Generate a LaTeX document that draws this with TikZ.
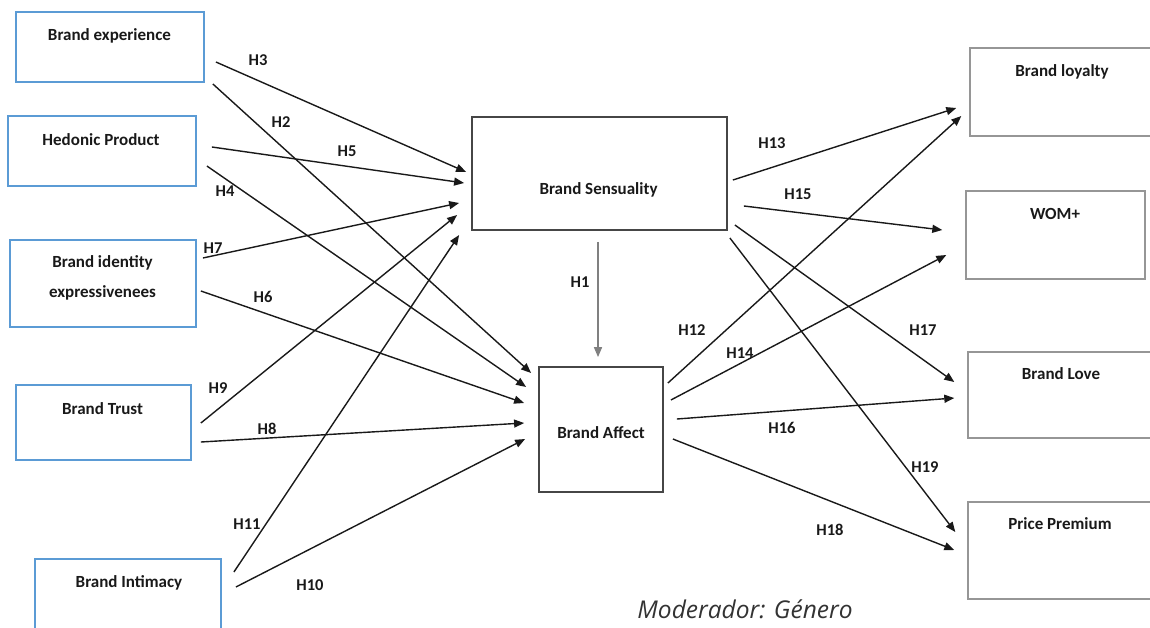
\documentclass[tikz,border=0pt]{standalone}
\usepackage{fontspec}
\setmainfont{Carlito}
\newfontfamily\modfont{Open Sans}
\usetikzlibrary{arrows.meta,calc}
\definecolor{boxblue}{RGB}{91,155,213}
\definecolor{boxdark}{RGB}{70,70,70}
\definecolor{boxgray}{RGB}{150,150,150}
\definecolor{txt}{RGB}{25,25,25}
\definecolor{hgray}{RGB}{128,128,128}
\begin{document}
\begin{tikzpicture}[x=1pt,y=-1pt,
  lbox/.style={draw=boxblue,line width=1.8pt,inner sep=0pt},
  cbox/.style={draw=boxdark,line width=1.8pt,inner sep=0pt},
  rbox/.style={draw=boxgray,line width=1.4pt,inner sep=0pt},
  btxt/.style={text=txt,font=\fontsize{17}{30}\selectfont\bfseries,inner sep=0pt,align=center},
  hlab/.style={text=txt,font=\fontsize{16.5}{18}\selectfont\bfseries,inner sep=0pt},
  arr/.style={line width=1.4pt,draw=black!90,-{Triangle[length=10pt,width=8pt]}},
  garr/.style={line width=1.6pt,draw=hgray,-{Triangle[length=10pt,width=8pt]}}]
\useasboundingbox (0,0) rectangle (1150,627);
\clip (0,0) rectangle (1150,627);
% left boxes
\node[lbox,minimum width=188pt,minimum height=70pt] (be) at (110,47) {};
\node[lbox,minimum width=188pt,minimum height=70pt] (hp) at (102,151) {};
\node[lbox,minimum width=186pt,minimum height=87pt] (bi) at (103,283.5) {};
\node[lbox,minimum width=175pt,minimum height=75pt] (bt) at (103.5,422.5) {};
\node[lbox,minimum width=186pt,minimum height=91pt] (bint) at (128,604.5) {};
% center boxes
\node[cbox,minimum width=255pt,minimum height=113pt] (bs) at (599.5,173.5) {};
\node[cbox,minimum width=124pt,minimum height=125pt] (ba) at (601,429.5) {};
% right boxes
\node[rbox,minimum width=190pt,minimum height=88pt] (bl) at (1065,92) {};
\node[rbox,minimum width=179pt,minimum height=88pt] (wom) at (1055.5,235) {};
\node[rbox,minimum width=192pt,minimum height=86pt] (blv) at (1064,395) {};
\node[rbox,minimum width=192pt,minimum height=97pt] (pp) at (1064,550.5) {};
% box texts
\node[btxt] (be-t) at (109.5,36) {Brand experience};
\node[btxt] (hp-t) at (101,140) {Hedonic Product};
\node[btxt] (bi-t) at (102.5,278) {Brand identity\\expressivenees};
\node[btxt] (bt-t) at (102.5,409) {Brand Trust};
\node[btxt] (bint-t) at (129,583) {Brand Intimacy};
\node[btxt] (bs-t) at (598.5,190) {Brand Sensuality};
\node[btxt] (ba-t) at (601,433) {Brand Affect};
\node[btxt] (bl-t) at (1062,72) {Brand loyalty};
\node[btxt] (wom-t) at (1055,214) {WOM+};
\node[btxt] (blv-t) at (1061,374) {Brand Love};
\node[btxt] (pp-t) at (1060,524) {Price Premium};
% arrows into Brand Sensuality
\draw[arr] ([shift={(11,15)}]be.east) -- ([shift={(-5,-1.5)}]bs.west);
\draw[arr] ([shift={(15,-4)}]hp.east) -- ([shift={(-7,9.5)}]bs.west);
\draw[arr] ([shift={(6,-25.5)}]bi.east) -- ([shift={(-12,29.5)}]bs.west);
\draw[arr] ([shift={(9,0.5)}]bt.east) -- ([shift={(-14,41.5)}]bs.west);
\draw[arr] ([shift={(12,-32.5)}]bint.east) -- ([shift={(-12,61.5)}]bs.west);
% arrows into Brand Affect
\draw[arr] ([shift={(8,37)}]be.east) -- ([shift={(-7,-56.5)}]ba.west);
\draw[arr] ([shift={(10,15)}]hp.east) -- ([shift={(-12,-42.5)}]ba.west);
\draw[arr] ([shift={(4,7.5)}]bi.east) -- ([shift={(-14,-26.5)}]ba.west);
\draw[arr] ([shift={(9,19.5)}]bt.east) -- ([shift={(-14,-6.5)}]ba.west);
\draw[arr] ([shift={(14,-17.5)}]bint.east) -- ([shift={(-13,9.5)}]ba.west);
% H1
\draw[garr] ([shift={(-1.5,11)}]bs.south) -- ([shift={(-3,-9)}]ba.north);
% out of Brand Sensuality
\draw[arr] ([shift={(5,6.5)}]bs.east) -- ([shift={(-13,16)}]bl.west);
\draw[arr] ([shift={(16,32.5)}]bs.east) -- ([shift={(-23,-5)}]wom.west);
\draw[arr] ([shift={(7,51.5)}]bs.east) -- ([shift={(-13,-13)}]blv.west);
\draw[arr] ([shift={(2,64.5)}]bs.east) -- ([shift={(-12,-18.5)}]pp.west);
% out of Brand Affect
\draw[arr] ([shift={(4,-46.5)}]ba.east) -- ([shift={(-8,24)}]bl.west);
\draw[arr] ([shift={(7,-29.5)}]ba.east) -- ([shift={(-19,20)}]wom.west);
\draw[arr] ([shift={(13,-10.5)}]ba.east) -- ([shift={(-13,3)}]blv.west);
\draw[arr] ([shift={(9,9.5)}]ba.east) -- ([shift={(-13,-0.5)}]pp.west);
% labels
\node[hlab] (h1) at (580,282) {H1};
\node[hlab] (h2) at (281,122) {H2};
\node[hlab] (h3) at (258,60) {H3};
\node[hlab] (h4) at (225,191) {H4};
\node[hlab] (h5) at (347,151) {H5};
\node[hlab] (h6) at (263,297) {H6};
\node[hlab] (h7) at (213,248) {H7};
\node[hlab] (h8) at (267,429) {H8};
\node[hlab] (h9) at (218,388) {H9};
\node[hlab] (h10) at (310,585) {H10};
\node[hlab] (h11) at (247,524) {H11};
\node[hlab] (h12) at (692,330) {H12};
\node[hlab] (h13) at (772,143) {H13};
\node[hlab] (h14) at (740,353) {H14};
\node[hlab] (h15) at (798,194) {H15};
\node[hlab] (h16) at (782,428) {H16};
\node[hlab] (h17) at (923,330) {H17};
\node[hlab] (h18) at (830,530) {H18};
\node[hlab] (h19) at (925,467) {H19};
\node[text=black!80,font=\modfont\itshape\fontsize{24.5}{27}\selectfont,inner sep=0pt] (mod) at (745,609) {Moderador: Género};
\end{tikzpicture}
\end{document}
